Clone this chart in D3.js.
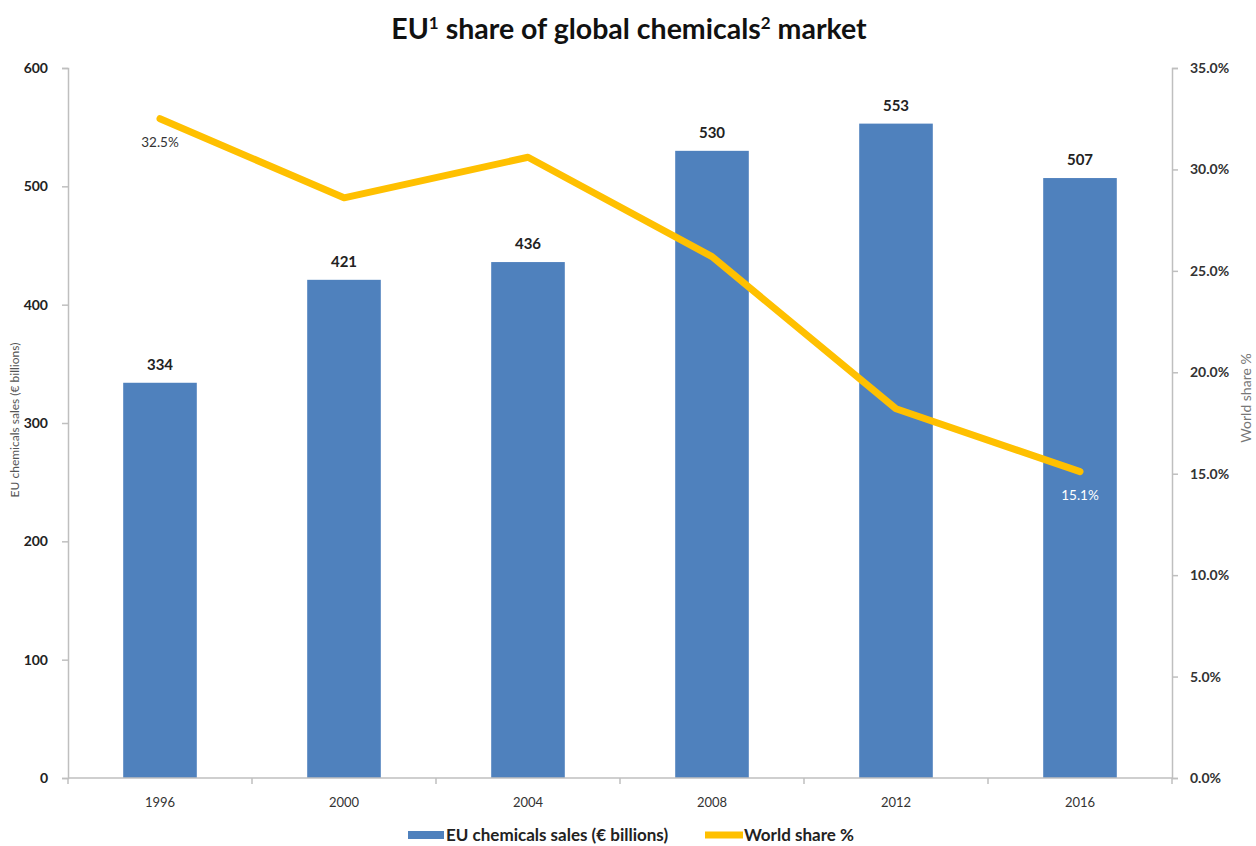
<!DOCTYPE html>
<html><head><meta charset="utf-8">
<script src="https://cdn.jsdelivr.net/npm/d3@7"></script>
<style>
html,body{margin:0;padding:0;background:#fff;}
svg{display:block;font-family:Lato,"Open Sans",sans-serif;}
</style></head>
<body>
<svg id="chart" width="1256" height="846"></svg>
<script>
const years = ["1996","2000","2004","2008","2012","2016"];
const sales = [334, 421, 436, 530, 553, 507];
const share = [32.5, 28.6, 30.6, 25.7, 18.2, 15.1];
const leftTicks = [0,100,200,300,400,500,600];
const rightTicks = [0,5,10,15,20,25,30,35];

const svg = d3.select("#chart");
const L = 68, R = 1172, T = 68, B = 778;

const x = d3.scaleBand().domain(years).range([L, R]).paddingInner(0.6).paddingOuter(0.3);
const yL = d3.scaleLinear().domain([0, 600]).range([B, T]);
const yR = d3.scaleLinear().domain([0, 35]).range([B, T]);

// title
const title = svg.append("text").attr("x", 629).attr("y", 39).attr("text-anchor", "middle")
  .attr("font-size", 28.5).attr("font-weight", "bold").attr("fill", "#111");
title.append("tspan").text("EU");
title.append("tspan").text("1").attr("font-size", 17).attr("dy", -10);
title.append("tspan").text(" share of global chemicals").attr("dy", 10);
title.append("tspan").text("2").attr("font-size", 17).attr("dy", -10);
title.append("tspan").text(" market").attr("dy", 10);

// bars
svg.append("g").selectAll("rect").data(years).join("rect")
  .attr("x", d => x(d)).attr("width", x.bandwidth())
  .attr("y", (d,i) => yL(sales[i])).attr("height", (d,i) => B - yL(sales[i]))
  .attr("fill", "#4f81bd");

// bar labels
svg.append("g").selectAll("text").data(years).join("text")
  .attr("x", d => x(d) + x.bandwidth()/2).attr("y", (d,i) => yL(sales[i]) - 13)
  .attr("text-anchor", "middle").attr("font-size", 15).attr("font-weight", "bold").attr("fill", "#222")
  .text((d,i) => sales[i]);

// left axis
const axL = svg.append("g").attr("transform", `translate(${L},0)`)
  .call(d3.axisLeft(yL).tickValues(leftTicks).tickSize(6).tickPadding(14).tickFormat(d3.format("d")));
axL.selectAll("path,line").attr("stroke", "#bfbfbf").attr("stroke-width", 1.5);
axL.selectAll("text").attr("font-size", 14).attr("font-weight", "bold").attr("fill", "#222").attr("font-family", "Lato");

// right axis
const axR = svg.append("g").attr("transform", `translate(${R},0)`)
  .call(d3.axisRight(yR).tickValues(rightTicks).tickSize(6).tickPadding(12).tickFormat(d => d.toFixed(1) + "%"));
axR.selectAll("path,line").attr("stroke", "#bfbfbf").attr("stroke-width", 1.5);
axR.selectAll("text").attr("font-size", 14).attr("font-weight", "bold").attr("fill", "#333").attr("font-family", "Lato");

// bottom axis
const xb = svg.append("g").attr("transform", `translate(0,${B})`);
xb.append("line").attr("x1", L).attr("x2", R).attr("stroke", "#bfbfbf").attr("stroke-width", 1.5);
const bounds = years.map((d,i) => L + i * (R - L) / years.length).concat([R]);
xb.selectAll("line.tk").data(bounds).join("line").attr("class", "tk")
  .attr("x1", d => d).attr("x2", d => d).attr("y1", 0).attr("y2", 6)
  .attr("stroke", "#bfbfbf").attr("stroke-width", 1.5);
xb.selectAll("text").data(years).join("text")
  .attr("x", d => x(d) + x.bandwidth()/2).attr("y", 29).attr("text-anchor", "middle")
  .attr("font-size", 13).attr("fill", "#333").text(d => d);

// axis titles
svg.append("text").attr("transform", `translate(19,420) rotate(-90)`).attr("text-anchor", "middle")
  .attr("font-size", 12).attr("fill", "#555").text("EU chemicals sales (€ billions)");
svg.append("text").attr("transform", `translate(1251,398) rotate(-90)`).attr("text-anchor", "middle")
  .attr("font-size", 14).attr("fill", "#777").text("World share %");

// line
const line = d3.line().x((d,i) => x(years[i]) + x.bandwidth()/2).y(d => yR(d));
svg.append("path").datum(share).attr("d", line).attr("fill", "none")
  .attr("stroke", "#ffc000").attr("stroke-width", 7).attr("stroke-linejoin", "round").attr("stroke-linecap", "round");

// line labels
svg.append("text").attr("x", x(years[0]) + x.bandwidth()/2).attr("y", yR(share[0]) + 28)
  .attr("text-anchor", "middle").attr("font-size", 13.5).attr("fill", "#333").text(share[0].toFixed(1) + "%");
svg.append("text").attr("x", x(years[5]) + x.bandwidth()/2).attr("y", yR(share[5]) + 28)
  .attr("text-anchor", "middle").attr("font-size", 13.5).attr("fill", "#fff").text(share[5].toFixed(1) + "%");

// legend
const lg = svg.append("g").attr("transform", "translate(0,835)");
lg.append("rect").attr("x", 408).attr("y", -4).attr("width", 36).attr("height", 8).attr("fill", "#4f81bd");
lg.append("text").attr("x", 446).attr("y", 6).attr("font-size", 17).attr("font-weight", "bold").attr("fill", "#222")
  .text("EU chemicals sales (€ billions)");
lg.append("line").attr("x1", 705).attr("x2", 743).attr("y1", 0).attr("y2", 0).attr("stroke", "#ffc000").attr("stroke-width", 7);
lg.append("text").attr("x", 744).attr("y", 6).attr("font-size", 17).attr("font-weight", "bold").attr("fill", "#222")
  .text("World share %");
</script>
</body></html>
